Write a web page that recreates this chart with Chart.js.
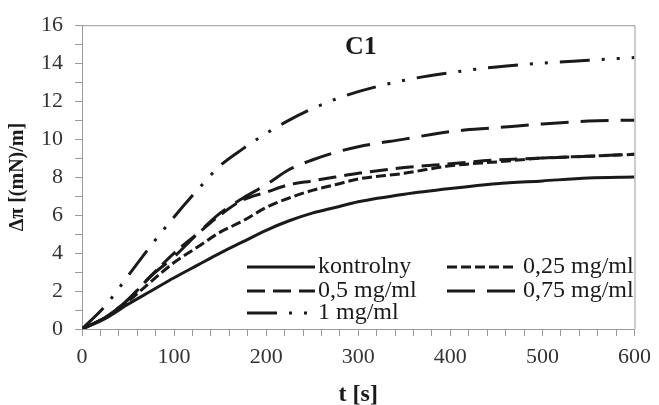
<!DOCTYPE html>
<html>
<head>
<meta charset="utf-8">
<script src="https://cdn.jsdelivr.net/npm/chart.js@4"></script>
<style>
  html, body { margin: 0; padding: 0; background: #fff; }
  #wrap { width: 659px; height: 405px; }
</style>
</head>
<body>
<div id="wrap"><canvas id="chartC1"></canvas></div>
<script>
const tSec = [0, 25, 50, 75, 100, 125, 150, 175, 200, 225, 250, 275, 300, 350, 400, 450, 500, 550, 600];
const kontrolny = [0, 0.55, 1.3, 2.0, 2.7, 3.35, 4.0, 4.6, 5.2, 5.7, 6.1, 6.4, 6.7, 7.1, 7.4, 7.65, 7.8, 7.95, 8.0];
const c025 = [0, 0.6, 1.45, 2.5, 3.5, 4.3, 5.1, 5.7, 6.4, 6.9, 7.3, 7.6, 7.9, 8.2, 8.6, 8.8, 9.0, 9.1, 9.2];
const c05 = [0, 0.6, 1.55, 2.8, 4.0, 5.0, 6.0, 6.8, 7.2, 7.6, 7.8, 8.0, 8.2, 8.5, 8.7, 8.9, 9.0, 9.1, 9.2];
const c075 = [0, 0.6, 1.55, 2.8, 3.8, 5.0, 6.1, 6.9, 7.6, 8.4, 8.9, 9.3, 9.6, 10.0, 10.4, 10.6, 10.8, 10.95, 11.0];
const c1 = [0, 1.2, 2.8, 4.4, 5.9, 7.3, 8.6, 9.5, 10.3, 11.0, 11.6, 12.1, 12.5, 13.1, 13.5, 13.8, 14.0, 14.15, 14.3];
const seriesNames = ["kontrolny", "0,25 mg/ml", "0,5 mg/ml", "0,75 mg/ml", "1 mg/ml"];

const ink = "#1a1a1a";
const frameColor = "#9a9a9a";
const serif = "'Liberation Serif', 'Times New Roman', serif";

function pts(ys) {
  return tSec.map((t, i) => ({ x: t, y: ys[i] }));
}

function line(label, ys, dash) {
  return {
    label: label,
    data: pts(ys),
    borderColor: ink,
    backgroundColor: ink,
    borderWidth: 3,
    borderDash: dash,
    pointRadius: 0,
    cubicInterpolationMode: "monotone",
    fill: false,
  };
}

// frame, "C1" label and legend drawn inside the plot area
const extras = {
  id: "extras",
  afterDraw(chart) {
    const { ctx, chartArea: a } = chart;
    ctx.save();
    ctx.strokeStyle = frameColor;
    ctx.lineWidth = 1;
    ctx.beginPath();
    ctx.moveTo(a.left, a.top + 0.5);
    ctx.lineTo(a.right + 0.5, a.top + 0.5);
    ctx.lineTo(a.right + 0.5, a.bottom);
    ctx.stroke();

    ctx.fillStyle = ink;
    ctx.font = "bold 26px " + serif;
    ctx.textAlign = "left";
    ctx.textBaseline = "middle";
    ctx.fillText("C1", a.left + 263, a.top + 22);

    // legend, two columns
    const rows = [a.bottom - 62, a.bottom - 38, a.bottom - 16];
    const cols = [a.left + 165, a.left + 365];
    ctx.font = "24px " + serif;
    chart.data.datasets.forEach((ds, i) => {
      const x = cols[i % 2];
      const y = rows[Math.floor(i / 2)];
      ctx.strokeStyle = ink;
      ctx.lineWidth = 3;
      ctx.setLineDash(ds.borderDash || []);
      ctx.beginPath();
      ctx.moveTo(x, y);
      ctx.lineTo(x + 68, y);
      ctx.stroke();
      ctx.setLineDash([]);
      ctx.fillText(ds.label, x + (i % 2 ? 76 : 71), y);
    });
    ctx.restore();
  },
};

new Chart(document.getElementById("chartC1"), {
  type: "line",
  data: {
    datasets: [
      line(seriesNames[0], kontrolny, []),
      line(seriesNames[1], c025, [10, 4]),
      line(seriesNames[2], c05, [18, 8]),
      line(seriesNames[3], c075, [28, 12]),
      line(seriesNames[4], c1, [30, 12, 3, 12, 3, 12]),
    ],
  },
  options: {
    responsive: true,
    maintainAspectRatio: false,
    animation: false,
    layout: { padding: { left: 0, right: 22, top: 21, bottom: 0 } },
    plugins: {
      legend: { display: false },
      tooltip: { enabled: false },
    },
    scales: {
      x: {
        type: "linear",
        min: 0,
        max: 600,
        afterFit: (s) => { s.height = 76; },
        border: { color: frameColor },
        grid: { drawOnChartArea: false, tickLength: 7, tickColor: frameColor },
        ticks: {
          stepSize: 20,
          autoSkip: false,
          maxRotation: 0,
          padding: 8,
          color: "#333",
          font: { family: serif, size: 22 },
          callback: (v) => (v % 100 === 0 ? v : ""),
        },
        title: {
          display: true,
          text: "t [s]",
          color: ink,
          font: { family: serif, size: 24, weight: "bold" },
          padding: { top: 0, bottom: -4 },
        },
      },
      y: {
        min: 0,
        max: 16,
        afterFit: (s) => { s.width = 82; },
        border: { color: frameColor },
        grid: { drawOnChartArea: false, tickLength: 7, tickColor: frameColor },
        ticks: {
          stepSize: 1,
          autoSkip: false,
          padding: 12,
          color: "#333",
          font: { family: serif, size: 22 },
          callback: (v) => (v % 2 === 0 ? v : ""),
        },
        title: {
          display: true,
          text: "Δπ [(mN)/m]",
          color: ink,
          font: { family: serif, size: 20, weight: "bold" },
          padding: { top: 6, bottom: 0 },
        },
      },
    },
  },
  plugins: [extras],
});
</script>
</body>
</html>
